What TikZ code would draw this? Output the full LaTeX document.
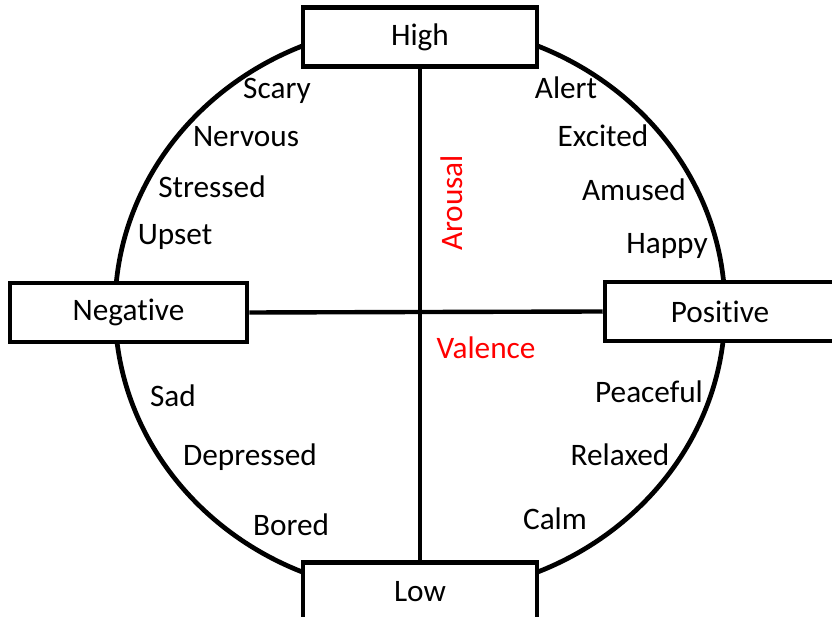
\documentclass[tikz,border=0pt]{standalone}
\usepackage{fontspec}
\setmainfont[Ligatures=NoCommon]{Carlito}
\usepackage{tikz}
\usetikzlibrary{positioning}

\tikzset{
  pole/.style={draw,line width=2.6pt,fill=white,minimum width=4.68cm,minimum height=1.18cm,inner sep=0pt},
  mood/.style={inner sep=0pt},
  axislbl/.style={text=red,inner sep=0pt}
}

\begin{document}
\begin{tikzpicture}[x=0.02cm,y=-0.02cm,font=\fontsize{17.8}{21}\selectfont]
  \useasboundingbox (0,0) rectangle (832,617);
  % the circle
  \draw[line width=2.7pt] (420,309) ellipse [x radius=305,y radius=285];
  % poles
  \node[pole] (high) at (420,37) {High};
  \node[pole] (low) at (420,592) {Low};
  \node[pole,minimum width=4.74cm] (neg) at (128.5,312.5) {Negative};
  \node[pole,minimum width=4.6cm] (pos) at (720,311.5) {Positive};
  % axes
  \draw[line width=2.5pt] (high.south) -- (low.north);
  \draw[line width=2.5pt] (neg.east) -- (pos.west);
  \node[axislbl,rotate=90] (arousal) at (452,203) {Arousal};
  \node[axislbl] (valence) at (486,348) {Valence};
  % moods
  \node[mood] (scary) at (277,91) {Scary};
  \node[mood] (nervous) at (246,137) {Nervous};
  \node[mood] (stressed) at (212,187) {Stressed};
  \node[mood] (upset) at (175,237) {Upset};
  \node[mood] (alert) at (566,88) {Alert};
  \node[mood] (excited) at (603,136) {Excited};
  \node[mood] (amused) at (634,190) {Amused};
  \node[mood] (happy) at (667,246) {Happy};
  \node[mood] (sad) at (173,396) {Sad};
  \node[mood] (depressed) at (250,457) {Depressed};
  \node[mood] (bored) at (291,525) {Bored};
  \node[mood] (peaceful) at (649,392) {Peaceful};
  \node[mood] (relaxed) at (620,455) {Relaxed};
  \node[mood] (calm) at (555,519) {Calm};
\end{tikzpicture}
\end{document}
